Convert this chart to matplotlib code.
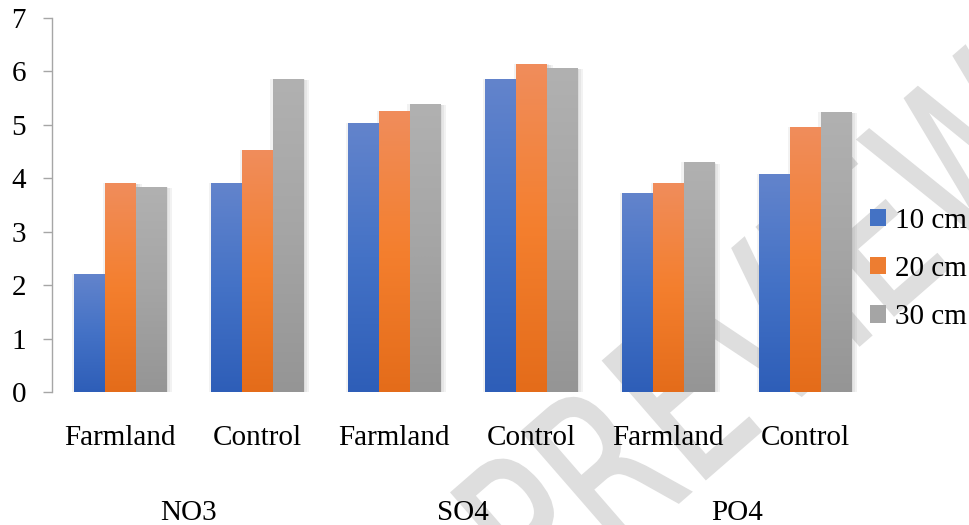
import numpy as np
import matplotlib
matplotlib.use("Agg")
import matplotlib.pyplot as plt
import matplotlib.patheffects as pe
from matplotlib.colors import LinearSegmentedColormap
from matplotlib.patches import Patch, PathPatch
from matplotlib.textpath import TextPath
from matplotlib.font_manager import FontProperties
from matplotlib.transforms import blended_transform_factory, Affine2D, IdentityTransform

# ---- data ----
sites = ["Farmland", "Control", "Farmland", "Control", "Farmland", "Control"]
groups = ["NO3", "SO4", "PO4"]
series = ["10 cm", "20 cm", "30 cm"]
depth_10 = [2.21, 3.91, 5.03, 5.86, 3.72, 4.08]
depth_20 = [3.91, 4.53, 5.26, 6.14, 3.91, 4.96]
depth_30 = [3.84, 5.86, 5.39, 6.06, 4.30, 5.24]
y_ticks = [0, 1, 2, 3, 4, 5, 6, 7]
watermark = "PREVIEW"

# gradient stops (bottom, middle, top) per series
grad_colors = [
    ["#2E5EB8", "#4472C6", "#6384CC"],
    ["#E46C1A", "#F47F2E", "#F08D5C"],
    ["#959595", "#A5A5A5", "#B1B1B1"],
]
mid_colors = ["#4472C4", "#ED7D31", "#A5A5A5"]

plt.rcParams["font.family"] = ["Liberation Serif", "DejaVu Serif"]

W, H = 969, 525
fig = plt.figure(figsize=(W / 100, H / 100), dpi=100)
ax_l, ax_r = 51.7 / W, 873.7 / W
ax_b, ax_t = 1 - 392.3 / H, 1 - 17.7 / H
ax = fig.add_axes([ax_l, ax_b, ax_r - ax_l, ax_t - ax_b])
ax.set_zorder(1)
ax.set_facecolor("none")

# watermark: condensed, rotated text outline behind the chart
S = 215.0
sx = 0.72
tp = TextPath((0, 0), watermark, size=S, prop=FontProperties(family="DejaVu Sans"))
wm_tr = (Affine2D().scale(sx, 1).translate(-0.746 * S * sx, 0)
         .rotate_deg(41).translate(630, H - 545))
fig.add_artist(PathPatch(wm_tr.transform_path(tp), facecolor="#dedede", edgecolor="#dedede",
                         linewidth=1.5, transform=IdentityTransform(), zorder=0.5))

x = np.arange(len(sites))
bw = 0.224
offsets = [-bw, 0, bw]
all_vals = [depth_10, depth_20, depth_30]

shadow = [pe.SimplePatchShadow(offset=o, shadow_rgbFace="#777777", alpha=0.09)
          for o in [(-1.5, 0), (1.5, -0.5), (3, -1), (4.5, -1)]]

gradient = np.linspace(0, 1, 256).reshape(-1, 1)
for i, vals in enumerate(all_vals):
    bars = ax.bar(x + offsets[i], vals, width=bw, color=mid_colors[i],
                  zorder=2, linewidth=0,
                  path_effects=shadow + [pe.Normal()])
    cmap = LinearSegmentedColormap.from_list("g%d" % i, grad_colors[i])
    for b in bars:
        x0, y0 = b.get_x(), b.get_y()
        im = ax.imshow(gradient, extent=[x0, x0 + b.get_width(), y0, y0 + b.get_height()],
                       origin="lower", aspect="auto", cmap=cmap, zorder=3,
                       interpolation="bilinear")
        im.set_clip_path(b)

ax.set_xlim(-0.5, len(sites) - 0.5)
ax.set_ylim(0, 7)
ax.set_yticks(y_ticks)
ax.set_yticklabels([str(t) for t in y_ticks], fontsize=21)
ax.tick_params(axis="y", length=6.5, width=1, color="#a6a6a6", pad=12)
ax.set_xticks([])
for s in ["top", "right", "bottom"]:
    ax.spines[s].set_visible(False)
ax.spines["left"].set_color("#a6a6a6")
ax.spines["left"].set_linewidth(1)

# category labels
tr = blended_transform_factory(ax.transData, ax.transAxes)
ax_h = 392.3 - 17.7
for xi, lab in zip(x, sites):
    ax.text(xi, (392.3 - 445) / ax_h, lab, transform=tr, ha="center",
            va="baseline", fontsize=21, clip_on=False)
for gi, g in enumerate(groups):
    ax.text(2 * gi + 0.5, (392.3 - 520) / ax_h, g, transform=tr, ha="center",
            va="baseline", fontsize=21, clip_on=False)

handles = [Patch(facecolor=c, edgecolor="none") for c in mid_colors]
leg = fig.legend(handles, series, loc="center left", bbox_to_anchor=(870 / W, 1 - 269 / H),
                 frameon=False, fontsize=21, handlelength=0.55, handleheight=0.55,
                 handletextpad=0.3, labelspacing=0.76, borderpad=0, borderaxespad=0)
leg.set_zorder(5)

fig.savefig("out.png", dpi=100)
